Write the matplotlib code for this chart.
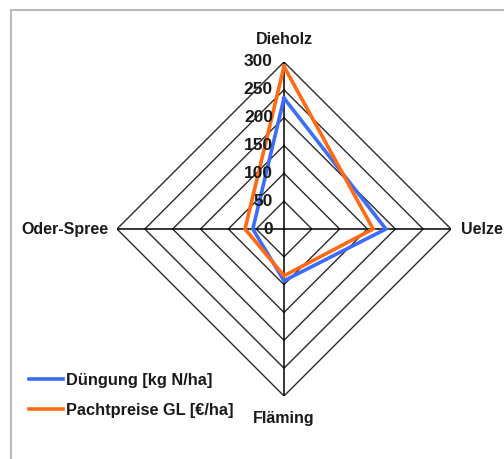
import numpy as np
import matplotlib
matplotlib.use("Agg")
import matplotlib.pyplot as plt
from matplotlib.lines import Line2D

categories = ["Dieholz", "Uelzen", "Fläming", "Oder-Spree"]
duengung = [235, 183, 93, 56]
pachtpreise = [292, 160, 84, 70]
series_names = ["Düngung [kg N/ha]", "Pachtpreise GL [€/ha]"]
series_colors = ["#3d6cf6", "#ff6a12"]
ring_values = [0, 50, 100, 150, 200, 250, 300]

plt.rcParams['font.family'] = ['Liberation Sans', 'DejaVu Sans']

W, H = 504, 459
fig = plt.figure(figsize=(W / 100, H / 100), dpi=100)

cx, cy, R = 284, 229, 167
ax = fig.add_axes([(cx - R) / W, (H - cy - R) / H, 2 * R / W, 2 * R / H], projection='polar')
ax.set_theta_offset(np.pi / 2)
ax.set_theta_direction(-1)
ax.set_ylim(0, 300)
ax.grid(False)
ax.spines['polar'].set_visible(False)
ax.set_xticks([])
ax.set_yticks([])
ax.patch.set_alpha(0)

n = len(categories)
angles = np.arange(n) * 2 * np.pi / n
closed = np.concatenate([angles, angles[:1]])

for rv in ring_values[1:]:
    ax.plot(closed, [rv] * (n + 1), color='#2a2a2a', lw=1.0, zorder=1)
for a in angles:
    ax.plot([a, a], [0, ring_values[-1]], color='black', lw=1.1, zorder=1)

for vals, col, name in zip([duengung, pachtpreise], series_colors, series_names):
    v = list(vals) + [vals[0]]
    ax.plot(closed, v, color=col, lw=2.6, zorder=3, label=name, solid_joinstyle='miter')

for rv in ring_values:
    ax.annotate(str(rv), xy=(0, rv), xytext=(-8, 0), textcoords='offset points',
                ha='right', va='center', fontsize=12.5, fontweight='bold', color='#1a1a1a',
                annotation_clip=False, zorder=4)

label_offsets = [(0, 11, 'center', 'bottom'), (7, 0, 'left', 'center'),
                 (0, -11, 'center', 'top'), (-6, 0, 'right', 'center')]
for a, cat, (dx, dy, ha, va) in zip(angles, categories, label_offsets):
    ax.annotate(cat, xy=(a, ring_values[-1]), xytext=(dx, dy), textcoords='offset points',
                ha=ha, va=va, fontsize=11.5, fontweight='bold', color='#1a1a1a',
                annotation_clip=False)

handles, labels = ax.get_legend_handles_labels()
leg = fig.legend(handles, labels, loc='upper left', bbox_to_anchor=(22 / W, 1 - 366 / H),
                 frameon=False, prop={'weight': 'bold', 'size': 11.8}, handlelength=2.1,
                 handletextpad=0.2, labelspacing=0.95, borderaxespad=0)
for t in leg.get_texts():
    t.set_color('#1a1a1a')

fig.add_artist(Line2D([11 / W, 11 / W], [0, 1 - 10 / H], transform=fig.transFigure,
                      color='#bbbbbb', lw=1.5))
fig.add_artist(Line2D([11 / W, 1], [1 - 10 / H, 1 - 10 / H], transform=fig.transFigure,
                      color='#bbbbbb', lw=1.5))

fig.savefig("out.png", dpi=100)
